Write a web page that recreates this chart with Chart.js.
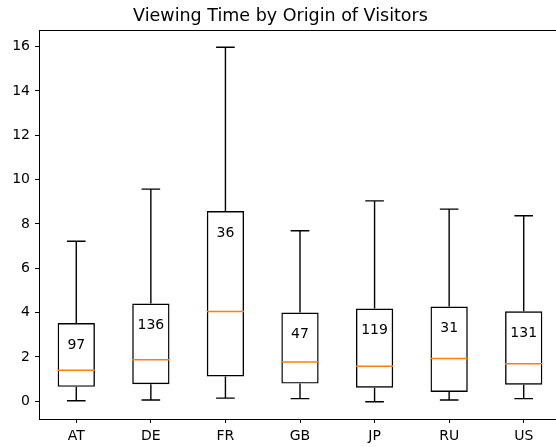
<!DOCTYPE html>
<html>
<head>
<meta charset="utf-8">
<script src="https://cdn.jsdelivr.net/npm/chart.js@4/dist/chart.umd.min.js"></script>
<style>
  html, body { margin: 0; padding: 0; background: #fff; overflow: hidden; }
  #wrap { width: 562px; height: 447px; }
</style>
</head>
<body>
<div id="wrap"><canvas id="grafica"></canvas></div>
<script>
// datos
var paises = ["AT", "DE", "FR", "GB", "JP", "RU", "US"];
var bigoteBajo = [0.02, 0.06, 0.14, 0.12, -0.02, 0.06, 0.12];
var cuartil1 = [0.65, 0.77, 1.12, 0.80, 0.61, 0.42, 0.75];
var mediana = [1.40, 1.87, 4.05, 1.77, 1.58, 1.93, 1.69];
var cuartil3 = [3.53, 4.41, 8.58, 4.00, 4.18, 4.27, 4.06];
var bigoteAlto = [7.22, 9.57, 15.97, 7.69, 9.04, 8.67, 8.37];
var conteos = [97, 136, 36, 47, 119, 31, 131];
var ticksY = [0, 2, 4, 6, 8, 10, 12, 14, 16];

var fuente = "'DejaVu Sans', sans-serif";
Chart.defaults.color = "#000";
Chart.defaults.font.family = fuente;

// dibuja bigotes, topes, mediana y conteos sobre las cajas
var pluginCajas = {
    id: "cajas",
    afterDatasetsDraw: function(chart) {
        var ctx = chart.ctx;
        var y = chart.scales.y;
        var meta = chart.getDatasetMeta(0);
        ctx.save();
        paises.forEach(function(p, i) {
            var barra = meta.data[i];
            var cx = barra.x;
            var ancho = barra.width;
            var tope = ancho / 4;
            ctx.strokeStyle = "#000";
            ctx.lineWidth = 1.4;
            ctx.beginPath();
            ctx.moveTo(cx, y.getPixelForValue(cuartil3[i]));
            ctx.lineTo(cx, y.getPixelForValue(bigoteAlto[i]));
            ctx.moveTo(cx - tope, y.getPixelForValue(bigoteAlto[i]));
            ctx.lineTo(cx + tope, y.getPixelForValue(bigoteAlto[i]));
            ctx.moveTo(cx, y.getPixelForValue(cuartil1[i]));
            ctx.lineTo(cx, y.getPixelForValue(bigoteBajo[i]));
            ctx.moveTo(cx - tope, y.getPixelForValue(bigoteBajo[i]));
            ctx.lineTo(cx + tope, y.getPixelForValue(bigoteBajo[i]));
            ctx.stroke();

            ctx.strokeStyle = "#ff7f0e";
            ctx.lineWidth = 1.6;
            ctx.beginPath();
            ctx.moveTo(cx - ancho / 2, y.getPixelForValue(mediana[i]));
            ctx.lineTo(cx + ancho / 2, y.getPixelForValue(mediana[i]));
            ctx.stroke();

            ctx.fillStyle = "#000";
            ctx.font = "14px " + fuente;
            ctx.textAlign = "center";
            ctx.textBaseline = "middle";
            ctx.fillText(String(conteos[i]), cx, y.getPixelForValue(cuartil3[i]) + 22);
        });
        // marco superior
        var a = chart.chartArea;
        ctx.strokeStyle = "#000";
        ctx.lineWidth = 1;
        ctx.beginPath();
        ctx.moveTo(a.left, a.top + 0.5);
        ctx.lineTo(a.right, a.top + 0.5);
        ctx.stroke();
        ctx.restore();
    }
};

new Chart(document.getElementById("grafica").getContext("2d"), {
    type: "bar",
    data: {
        labels: paises,
        datasets: [{
            data: paises.map(function(p, i) { return [cuartil1[i], cuartil3[i]]; }),
            backgroundColor: "rgba(0,0,0,0)",
            borderColor: "#000",
            borderWidth: 1.4,
            borderSkipped: false,
            categoryPercentage: 1,
            barPercentage: 0.5
        }]
    },
    options: {
        responsive: true,
        maintainAspectRatio: false,
        animation: false,
        events: [],
        layout: { padding: { left: 0, right: 1, top: 0, bottom: 0 } },
        plugins: {
            legend: { display: false },
            tooltip: { enabled: false },
            title: {
                display: true,
                text: "Viewing Time by Origin of Visitors",
                font: { size: 17.5, weight: "normal", family: fuente },
                padding: { top: 6, bottom: 3 }
            }
        },
        scales: {
            x: {
                offset: true,
                grid: { display: true, drawOnChartArea: false, offset: false, color: "#000", tickLength: 4 },
                border: { display: true, color: "#000", width: 1 },
                ticks: { font: { size: 14 }, padding: 5, maxRotation: 0 },
                afterFit: function(s) { s.height = 28; }
            },
            y: {
                min: -0.8,
                max: 16.75,
                grid: { display: true, drawOnChartArea: false, color: "#000", tickLength: 4 },
                border: { display: true, color: "#000", width: 1 },
                ticks: { font: { size: 14 }, padding: 5 },
                afterBuildTicks: function(s) { s.ticks = ticksY.map(function(v) { return { value: v }; }); },
                afterFit: function(s) { s.width = 39; }
            }
        }
    },
    plugins: [pluginCajas]
});
</script>
</body>
</html>
